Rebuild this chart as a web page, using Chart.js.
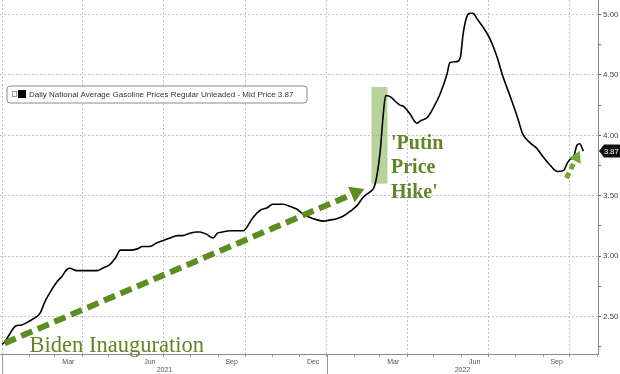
<!DOCTYPE html>
<html>
<head>
<meta charset="utf-8">
<script src="https://cdn.jsdelivr.net/npm/chart.js@4.4.0/dist/chart.umd.min.js"></script>
<style>
html, body { margin: 0; padding: 0; background: #fff; }
#wrap { width: 620px; height: 374px; }
</style>
</head>
<body>
<div id="wrap"><canvas id="gas"></canvas></div>
<script>
// data
const dates = [
  '2021-01-01','2021-01-04','2021-01-10','2021-01-16','2021-01-23','2021-01-29','2021-02-05','2021-02-13',
  '2021-02-18','2021-02-24','2021-03-04','2021-03-09','2021-03-15','2021-03-18','2021-03-26','2021-04-07',
  '2021-04-18','2021-04-24','2021-05-02','2021-05-08','2021-05-14','2021-05-25','2021-06-02','2021-06-08',
  '2021-06-16','2021-06-24','2021-07-01','2021-07-09','2021-07-17','2021-07-23','2021-07-31','2021-08-08',
  '2021-08-11','2021-08-19','2021-08-26','2021-08-31','2021-09-06','2021-09-14','2021-09-22','2021-09-29',
  '2021-10-03','2021-10-10','2021-10-18','2021-10-26','2021-11-01','2021-11-13','2021-11-21','2021-11-28',
  '2021-12-05','2021-12-13','2021-12-21','2021-12-28','2022-01-05','2022-01-12','2022-01-19','2022-01-27',
  '2022-02-04','2022-02-11','2022-02-18','2022-02-23','2022-02-26','2022-03-02','2022-03-05','2022-03-08',
  '2022-03-13','2022-03-19','2022-03-24','2022-03-28','2022-04-04','2022-04-12','2022-04-16','2022-04-24',
  '2022-04-30','2022-05-08','2022-05-16','2022-05-19','2022-05-27','2022-05-31','2022-06-03','2022-06-07',
  '2022-06-11','2022-06-14','2022-06-19','2022-06-25','2022-07-03','2022-07-11','2022-07-18','2022-07-26',
  '2022-08-03','2022-08-09','2022-08-17','2022-08-25','2022-09-01','2022-09-09','2022-09-17','2022-09-24',
  '2022-09-28','2022-10-01','2022-10-05','2022-10-09','2022-10-12','2022-10-16'
];
const prices = [
  2.27, 2.29, 2.36, 2.42, 2.43, 2.45, 2.48, 2.53,
  2.62, 2.70, 2.79, 2.83, 2.89, 2.90, 2.88, 2.88,
  2.88, 2.90, 2.93, 2.98, 3.05, 3.05, 3.06, 3.08,
  3.08, 3.11, 3.13, 3.15, 3.17, 3.17, 3.19, 3.20,
  3.20, 3.18, 3.15, 3.19, 3.20, 3.21, 3.21, 3.21,
  3.24, 3.32, 3.38, 3.40, 3.43, 3.43, 3.41, 3.39,
  3.35, 3.32, 3.30, 3.29, 3.30, 3.31, 3.33, 3.37,
  3.42, 3.49, 3.53, 3.57, 3.66, 3.88, 4.15, 4.33,
  4.32, 4.28, 4.25, 4.24, 4.18, 4.10, 4.12, 4.15,
  4.22, 4.34, 4.51, 4.60, 4.61, 4.65, 4.84, 4.98,
  5.01, 5.01, 4.96, 4.90, 4.80, 4.65, 4.48, 4.32,
  4.15, 4.01, 3.94, 3.89, 3.82, 3.75, 3.70, 3.71,
  3.77, 3.80, 3.82, 3.92, 3.93, 3.87
];
const seriesName = 'Daily National Average Gasoline Prices Regular Unleaded - Mid Price';
const lastPrice = 3.87;
const yTicks = [2.25, 2.5, 2.75, 3.0, 3.25, 3.5, 3.75, 4.0, 4.25, 4.5, 4.75, 5.0];
const monthStarts = [
  '2021-01-01','2021-02-01','2021-03-01','2021-04-01','2021-05-01','2021-06-01','2021-07-01','2021-08-01',
  '2021-09-01','2021-10-01','2021-11-01','2021-12-01','2022-01-01','2022-02-01','2022-03-01','2022-04-01',
  '2022-05-01','2022-06-01','2022-07-01','2022-08-01','2022-09-01','2022-10-01','2022-11-01'
];
const monthLabels = ['Mar', 'Jun', 'Sep', 'Dec', 'Mar', 'Jun', 'Sep'];
const monthLabelMonths = ['2021-03', '2021-06', '2021-09', '2021-12', '2022-03', '2022-06', '2022-09'];
const yearLabels = ['2021', '2022'];
const yearStarts = ['2021-01-01', '2022-01-01'];

// annotations
const hikeBand = ['2022-02-20', '2022-03-10'];
const hikeRange = [3.60, 4.40];
const hikeText = ["'Putin", 'Price', "Hike'"];
const hikeTextAt = ['2022-03-14', 3.89];
const bidenText = 'Biden Inauguration';
const bidenTextAt = ['2021-02-01', 2.205];
const bigArrow = [['2021-01-04', 2.28], ['2022-02-12', 3.555]];
const smallArrow = [['2022-09-27', 3.645], ['2022-10-12', 3.87]];

const DAY0 = Date.UTC(2021, 0, 1);
function dayOf(s) {
  const p = s.split('-').map(Number);
  return (Date.UTC(p[0], p[1] - 1, p[2] || 1) - DAY0) / 86400000;
}
const monthDays = monthStarts.map(dayOf);

function dashedArrow(ctx, x1, y1, x2, y2, color, width, dash, head) {
  const a = Math.atan2(y2 - y1, x2 - x1);
  const bx = x2 - head * Math.cos(a), by = y2 - head * Math.sin(a);
  ctx.save();
  ctx.strokeStyle = color;
  ctx.lineWidth = width;
  ctx.setLineDash(dash);
  ctx.beginPath();
  ctx.moveTo(x1, y1);
  ctx.lineTo(bx, by);
  ctx.stroke();
  ctx.setLineDash([]);
  ctx.fillStyle = color;
  const w = head * 0.6;
  ctx.beginPath();
  ctx.moveTo(x2, y2);
  ctx.lineTo(bx + w * Math.sin(a), by - w * Math.cos(a));
  ctx.lineTo(bx - w * Math.sin(a), by + w * Math.cos(a));
  ctx.closePath();
  ctx.fill();
  ctx.restore();
}

const decor = {
  id: 'decor',
  beforeDatasetsDraw(chart) {
    const { ctx, scales: { x, y } } = chart;
    const x1 = x.getPixelForValue(dayOf(hikeBand[0]));
    const x2 = x.getPixelForValue(dayOf(hikeBand[1]));
    const y1 = y.getPixelForValue(hikeRange[1]);
    const y2 = y.getPixelForValue(hikeRange[0]);
    ctx.save();
    ctx.fillStyle = 'rgba(160,196,120,0.75)';
    ctx.fillRect(x1, y1, x2 - x1, y2 - y1);
    ctx.restore();
  },
  afterDraw(chart) {
    const { ctx, chartArea: area, scales: { x, y } } = chart;
    const px = d => x.getPixelForValue(dayOf(d));

    // arrows
    dashedArrow(ctx, px(bigArrow[0][0]), y.getPixelForValue(bigArrow[0][1]),
      px(bigArrow[1][0]), y.getPixelForValue(bigArrow[1][1]), '#5b8d1f', 6, [12, 6], 14);
    dashedArrow(ctx, px(smallArrow[0][0]), y.getPixelForValue(smallArrow[0][1]),
      px(smallArrow[1][0]), y.getPixelForValue(smallArrow[1][1]), '#74aa32', 5, [6, 4], 11);

    // texts
    ctx.save();
    ctx.fillStyle = '#628526';
    ctx.textBaseline = 'alphabetic';
    ctx.font = 'bold 20px "Liberation Serif", serif';
    hikeText.forEach((t, i) => {
      ctx.fillText(t, px(hikeTextAt[0]), y.getPixelForValue(hikeTextAt[1]) + i * 24.5);
    });
    ctx.font = '22.5px "Liberation Serif", serif';
    ctx.fillText(bidenText, px(bidenTextAt[0]), y.getPixelForValue(bidenTextAt[1]));
    ctx.restore();

    // legend box
    ctx.save();
    const lx = area.left + 7, ly = 86, lw = 300, lh = 17, r = 3;
    ctx.beginPath();
    ctx.moveTo(lx + r, ly);
    ctx.lineTo(lx + lw - r, ly); ctx.arcTo(lx + lw, ly, lx + lw, ly + r, r);
    ctx.lineTo(lx + lw, ly + lh - r); ctx.arcTo(lx + lw, ly + lh, lx + lw - r, ly + lh, r);
    ctx.lineTo(lx + r, ly + lh); ctx.arcTo(lx, ly + lh, lx, ly + lh - r, r);
    ctx.lineTo(lx, ly + r); ctx.arcTo(lx, ly, lx + r, ly, r);
    ctx.closePath();
    ctx.fillStyle = '#fff';
    ctx.fill();
    ctx.strokeStyle = '#8a8a8a';
    ctx.lineWidth = 1;
    ctx.stroke();
    ctx.strokeStyle = '#999';
    ctx.strokeRect(lx + 5.5, ly + 5.5, 4, 5);
    ctx.fillStyle = '#000';
    ctx.fillRect(lx + 11, ly + 4, 8, 8);
    ctx.fillStyle = '#333';
    ctx.font = '8px "Liberation Sans", Arial, sans-serif';
    ctx.textBaseline = 'middle';
    ctx.fillText(seriesName + ' ' + lastPrice.toFixed(2), lx + 22, ly + lh / 2 + 0.5);
    ctx.restore();

    // last price tag
    ctx.save();
    const ty = y.getPixelForValue(lastPrice);
    ctx.fillStyle = '#111';
    ctx.beginPath();
    ctx.moveTo(area.right + 1, ty);
    ctx.lineTo(area.right + 6, ty - 6.5);
    ctx.lineTo(chart.width, ty - 6.5);
    ctx.lineTo(chart.width, ty + 6.5);
    ctx.lineTo(area.right + 6, ty + 6.5);
    ctx.closePath();
    ctx.fill();
    ctx.fillStyle = '#fff';
    ctx.font = '7.5px "Liberation Sans", Arial, sans-serif';
    ctx.textBaseline = 'middle';
    ctx.fillText(lastPrice.toFixed(2), area.right + 6, ty + 0.5);
    ctx.restore();

    // month and year labels under the x axis
    ctx.save();
    ctx.fillStyle = '#555';
    ctx.textAlign = 'center';
    ctx.textBaseline = 'middle';
    ctx.font = '7px "Liberation Sans", Arial, sans-serif';
    monthLabelMonths.forEach((m, i) => {
      const start = dayOf(m + '-01');
      const idx = monthDays.indexOf(start);
      const mid = (start + monthDays[idx + 1]) / 2;
      ctx.fillText(monthLabels[i], x.getPixelForValue(mid), area.bottom + 8);
    });
    yearStarts.forEach((s, i) => {
      const a = Math.max(dayOf(s), x.min);
      const b = i + 1 < yearStarts.length ? dayOf(yearStarts[i + 1]) : x.max;
      ctx.fillText(yearLabels[i], x.getPixelForValue((a + b) / 2), area.bottom + 16.5);
      const sx = Math.round(x.getPixelForValue(dayOf(s))) + 0.5;
      ctx.strokeStyle = '#999';
      ctx.lineWidth = 1;
      ctx.beginPath();
      ctx.moveTo(sx, area.bottom);
      ctx.lineTo(sx, chart.height);
      ctx.stroke();
    });
    ctx.restore();
  }
};

new Chart(document.getElementById('gas'), {
  type: 'line',
  data: {
    datasets: [{
      label: seriesName,
      data: dates.map((d, i) => ({ x: dayOf(d), y: prices[i] })),
      borderColor: '#000',
      borderWidth: 1.6,
      pointRadius: 0,
      cubicInterpolationMode: 'monotone',
      fill: false
    }]
  },
  options: {
    responsive: true,
    maintainAspectRatio: false,
    animation: false,
    layout: { padding: 0 },
    plugins: { legend: { display: false }, tooltip: { enabled: false } },
    scales: {
      x: {
        type: 'linear',
        min: -2.25,
        max: 669.5,
        afterBuildTicks: s => { s.ticks = monthDays.map(v => ({ value: v })); },
        afterFit: s => { s.height = 20; s.paddingLeft = 0; s.paddingRight = 0; },
        ticks: { display: false },
        grid: {
          color: c => (c.tick && monthDays.indexOf(c.tick.value) % 3 === 0) ? '#c4c4c4' : 'rgba(0,0,0,0)',
          tickColor: '#999',
          tickLength: 3,
          lineWidth: 1
        },
        border: { color: '#888', dash: [2, 2] }
      },
      y: {
        position: 'right',
        min: 2.19,
        max: 5.12,
        afterBuildTicks: s => { s.ticks = yTicks.map(v => ({ value: v })); },
        afterFit: s => { s.width = 22; s.paddingTop = 0; s.paddingBottom = 0; },
        ticks: {
          padding: 2,
          color: '#444',
          font: { family: '"Liberation Sans", Arial, sans-serif', size: 8 },
          callback: v => (Math.abs(v * 2 - Math.round(v * 2)) < 1e-6 ? v.toFixed(2) : '')
        },
        grid: {
          color: c => (c.tick && Math.abs(c.tick.value * 2 - Math.round(c.tick.value * 2)) < 1e-6) ? '#c4c4c4' : 'rgba(0,0,0,0)',
          tickColor: '#666',
          tickLength: 3,
          lineWidth: 1
        },
        border: { color: '#888', dash: [2, 2] }
      }
    }
  },
  plugins: [decor]
});
</script>
</body>
</html>
